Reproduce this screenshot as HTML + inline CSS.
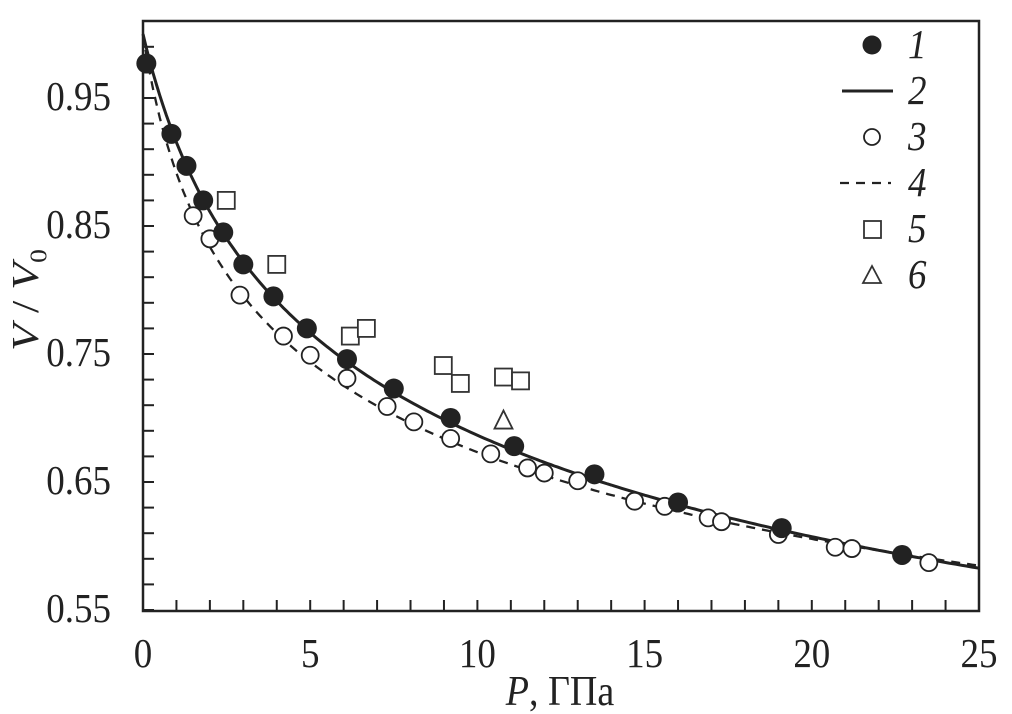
<!DOCTYPE html>
<html><head><meta charset="utf-8"><style>
html,body{margin:0;padding:0;background:#fff;}
svg{display:block;}
text{font-family:"Liberation Serif","Times New Roman",Times,serif;}
</style></head><body>
<svg id="chart" width="1012" height="714" viewBox="0 0 1012 714" xmlns="http://www.w3.org/2000/svg">
<g id="axes"></g>
<g id="curves"></g>
<g id="points"></g>
<g id="legend"></g>
<text font-family="Liberation Serif, serif" transform="translate(560,705) scale(1,1.12)" font-size="38" text-anchor="middle" fill="#222"><tspan font-style="italic">P</tspan>, ГПа</text>
<text font-family="Liberation Serif, serif" transform="translate(38,300) rotate(-90) scale(1.1,0.95)" font-size="40" text-anchor="middle" fill="#222"><tspan font-style="italic">V</tspan> / <tspan font-style="italic">V</tspan><tspan font-size="25" dy="9">0</tspan></text>
</svg>
<script>
const xTicks=[0,5,10,15,20,25];
const yTicks=[0.55,0.65,0.75,0.85,0.95];
const s1P=[0.1,0.85,1.3,1.8,2.4,3.0,3.9,4.9,6.1,7.5,9.2,11.1,13.5,16.0,19.1,22.7];
const s1V=[0.977,0.922,0.897,0.870,0.845,0.820,0.795,0.770,0.746,0.723,0.700,0.678,0.656,0.634,0.614,0.593];
const s3P=[1.5,2.0,2.9,4.2,5.0,6.1,7.3,8.1,9.2,10.4,11.5,12.0,13.0,14.7,15.6,16.9,17.3,19.0,20.7,21.2,23.5];
const s3V=[0.858,0.840,0.796,0.764,0.749,0.731,0.709,0.697,0.684,0.672,0.661,0.657,0.651,0.635,0.631,0.622,0.619,0.609,0.599,0.598,0.587];
const s5P=[2.49,4.0,6.2,6.68,8.98,9.49,10.78,11.29];
const s5V=[0.870,0.820,0.764,0.770,0.741,0.727,0.732,0.729];
const s6P=[10.78];
const s6V=[0.698];
const fit2=[9,5];   // K0, K' (solid)
const fit4=[6,6.1]; // K0, K' (dashed)

const NS="http://www.w3.org/2000/svg";
const X0=143,X1=979,Y0=611,YT=21;
const xs=p=>X0+p*(X1-X0)/25;
const ys=v=>98+(0.95-v)*1280;
function mk(tag,attrs,parent){const e=document.createElementNS(NS,tag);for(const k in attrs)e.setAttribute(k,attrs[k]);parent.appendChild(e);return e;}
const ax=document.getElementById('axes');
let f=mk('rect',{x:X0,y:YT,width:X1-X0,height:Y0-YT,fill:'none',stroke:'#222','stroke-width':2.5},ax);


for(let p=1;p<25;p++){let t=mk('line',{x1:xs(p),x2:xs(p),y1:Y0,y2:Y0-11,stroke:'#222','stroke-width':2},ax);

}
for(let i=0;i<23;i++){const v=0.55+i*0.02;const y=ys(v);if(y<YT+3)continue;let t=mk('line',{x1:X0,x2:X0+11,y1:y,y2:y,stroke:'#222','stroke-width':2},ax);

}
xTicks.forEach(p=>{let t=mk('text',{transform:`translate(${xs(p)},667) scale(1,1.12)`,'font-size':37,'text-anchor':'middle',fill:'#222'},ax);t.textContent=p;

});
yTicks.forEach(v=>{let t=mk('text',{transform:`translate(111,${ys(v)+12}) scale(1,1.12)`,'font-size':37,'text-anchor':'end',fill:'#222'},ax);t.textContent=v.toFixed(2);

});

const cv=document.getElementById('curves');
function murn(fit,P){return Math.pow(1+fit[1]*P/fit[0],-1/fit[1]);}
function curve(fit,dash,name){let d='';for(let i=0;i<=250;i++){const P=i*0.1;d+=(i?'L':'M')+xs(P).toFixed(1)+','+ys(murn(fit,P)).toFixed(1);}
let e=mk('path',{d:d,fill:'none',stroke:'#222','stroke-width':dash?2.3:3,'stroke-dasharray':dash?'9,7':'none'},cv);

}
curve(fit2,false,'series-2-line');
curve(fit4,true,'series-4-line');

const pg=document.getElementById('points');
s3P.forEach((p,i)=>{let e=mk('circle',{cx:xs(p),cy:ys(s3V[i]),r:8.5,fill:'#fff',stroke:'#222','stroke-width':1.8},pg);

});
s1P.forEach((p,i)=>{let e=mk('circle',{cx:xs(p),cy:ys(s1V[i]),r:10,fill:'#222'},pg);

});
s5P.forEach((p,i)=>{let e=mk('rect',{x:xs(p)-8.5,y:ys(s5V[i])-8.5,width:17,height:17,fill:'#fff',stroke:'#333','stroke-width':1.8},pg);

});
s6P.forEach((p,i)=>{const x=xs(p),y=ys(s6V[i]);let e=mk('polygon',{points:`${x},${y-10} ${x-9},${y+8} ${x+9},${y+8}`,fill:'#fff',stroke:'#333','stroke-width':1.8},pg);

});

const lg=document.getElementById('legend');
const rows=[45,91,137,183,229,275];
const labs=['1','2','3','4','5','6'];
rows.forEach((y,i)=>{let m;
 if(i==0)m=mk('circle',{cx:872,cy:y,r:9.5,fill:'#222'},lg);
 if(i==1)m=mk('line',{x1:842,x2:893,y1:y,y2:y,stroke:'#222','stroke-width':3},lg);
 if(i==2)m=mk('circle',{cx:872,cy:y,r:8,fill:'#fff',stroke:'#222','stroke-width':1.8},lg);
 if(i==3)m=mk('line',{x1:840,x2:891,y1:y,y2:y,stroke:'#222','stroke-width':2.3,'stroke-dasharray':'9,7'},lg);
 if(i==4)m=mk('rect',{x:864,y:y-8,width:17,height:17,fill:'#fff',stroke:'#333','stroke-width':1.8},lg);
 if(i==5)m=mk('polygon',{points:`872,${y-9} 863,${y+8} 881,${y+8}`,fill:'#fff',stroke:'#333','stroke-width':1.8},lg);
 
 
 let t=mk('text',{transform:`translate(908,${y+13}) scale(1,1.12)`,'font-size':37,'font-style':'italic',fill:'#222'},lg);t.textContent=labs[i];
 
 
});
</script>
</body></html>
